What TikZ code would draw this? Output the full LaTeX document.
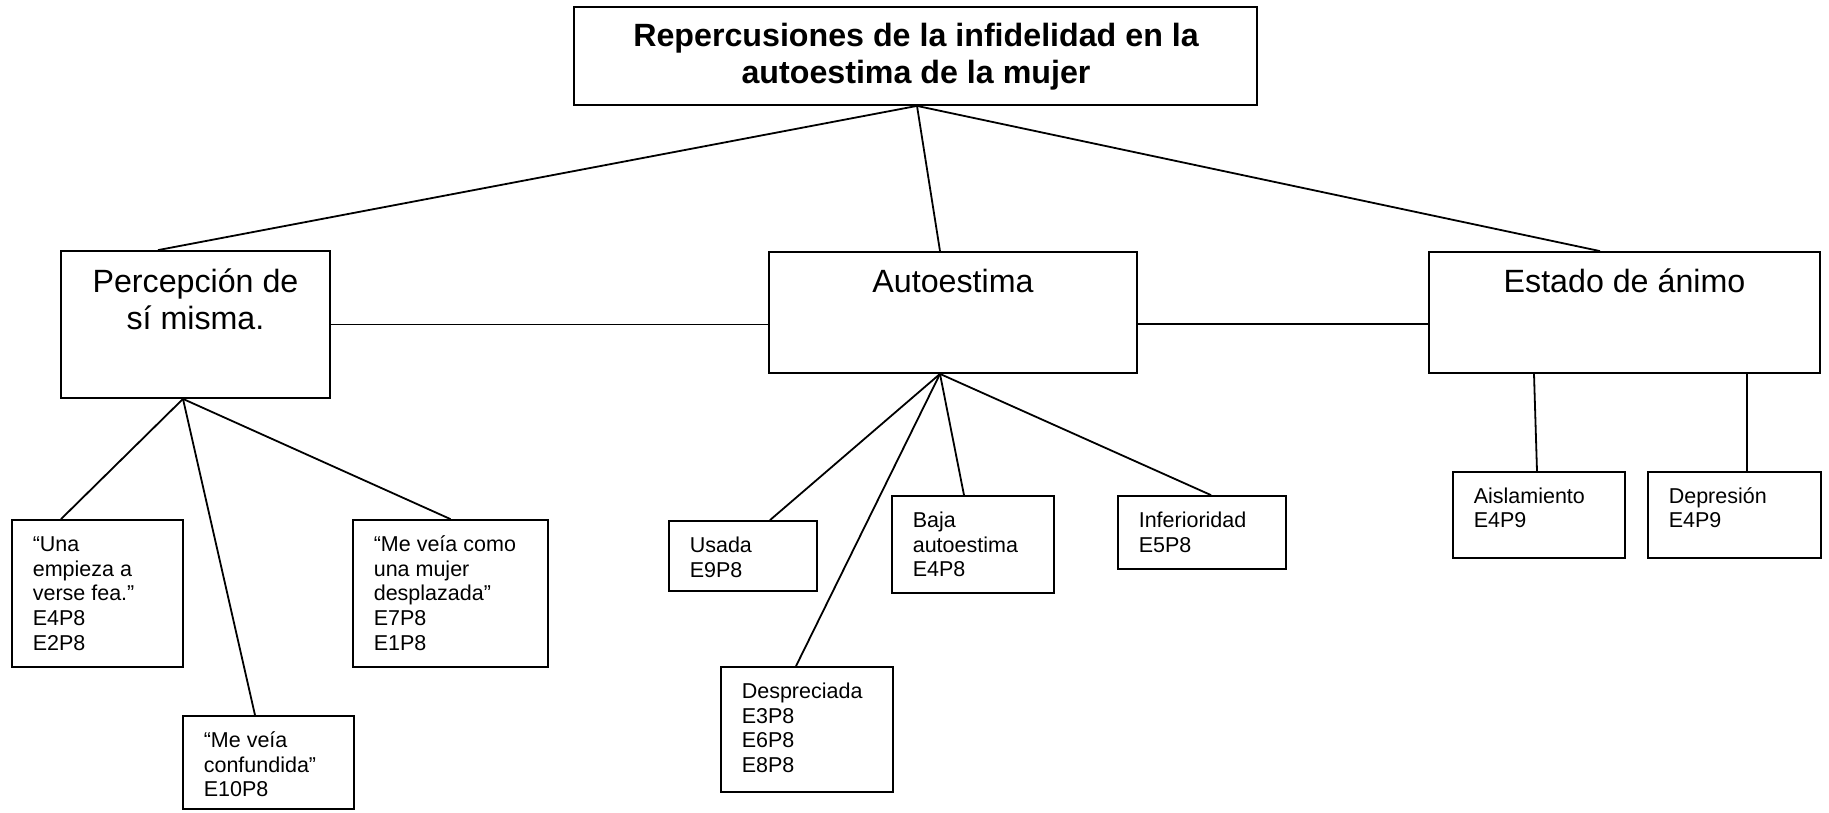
\documentclass[tikz,border=0pt]{standalone}
\usepackage{fontspec}
\setmainfont{Liberation Sans}
\begin{document}
\begin{tikzpicture}[x=1pt,y=-1pt,
  box/.style={draw, line width=1.8pt, inner sep=0pt, rectangle},
  conn/.style={line width=1.8pt},
  stxt/.style={inner sep=0pt, anchor=north west, align=left, font=\fontsize{21.5}{24.7}\selectfont},
  mtxt/.style={inner sep=0pt, anchor=north, align=center, font=\fontsize{32.2}{37}\selectfont},
  ttxt/.style={inner sep=0pt, anchor=north, align=center, font=\fontsize{32.2}{37}\selectfont\bfseries}]
\useasboundingbox[fill=white] (0,0) rectangle (1829,812);
% boxes
\node[box, minimum width=683pt, minimum height=98pt] (title) at (915.5,56) {};
\node[box, minimum width=269pt, minimum height=147pt] (perc) at (195.5,324.5) {};
\node[box, minimum width=368pt, minimum height=121pt] (auto) at (953,312.5) {};
\node[box, minimum width=391pt, minimum height=121pt] (estado) at (1624.5,312.5) {};
\node[box, minimum width=171pt, minimum height=147pt] (una) at (97.5,593.5) {};
\node[box, minimum width=171pt, minimum height=93pt] (conf) at (268.5,762.5) {};
\node[box, minimum width=195pt, minimum height=147pt] (despl) at (450.5,593.5) {};
\node[box, minimum width=148pt, minimum height=70pt] (usada) at (743,556) {};
\node[box, minimum width=172pt, minimum height=125pt] (desp) at (807,729.5) {};
\node[box, minimum width=162pt, minimum height=97pt] (baja) at (973,544.5) {};
\node[box, minimum width=168pt, minimum height=73pt] (inf) at (1202,532.5) {};
\node[box, minimum width=172pt, minimum height=86pt] (aisl) at (1539,515) {};
\node[box, minimum width=173pt, minimum height=86pt] (depr) at (1734.5,515) {};
% texts
\node[ttxt] (ttitle) at ([xshift=0.5pt,yshift=-14pt]title.north) {\strut Repercusiones de la infidelidad en la\\autoestima de la mujer};
\node[mtxt] (tperc) at ([yshift=-16pt]perc.north) {\strut Percepción de\\sí misma.};
\node[mtxt] (tauto) at ([yshift=-15pt]auto.north) {\strut Autoestima};
\node[mtxt] (testado) at ([yshift=-15pt]estado.north) {\strut Estado de ánimo};
\node[stxt] (tuna) at ([xshift=21.5pt,yshift=-14.7pt]una.north west) {\strut “Una\\empieza a\\verse fea.”\\E4P8\\E2P8};
\node[stxt] (tconf) at ([xshift=21.5pt,yshift=-14.7pt]conf.north west) {\strut “Me veía\\confundida”\\E10P8};
\node[stxt] (tdespl) at ([xshift=21.5pt,yshift=-14.7pt]despl.north west) {\strut “Me veía como\\una mujer\\desplazada”\\E7P8\\E1P8};
\node[stxt] (tusada) at ([xshift=21.5pt,yshift=-14.7pt]usada.north west) {\strut Usada\\E9P8};
\node[stxt] (tdesp) at ([xshift=21.5pt,yshift=-14.7pt]desp.north west) {\strut Despreciada\\E3P8\\E6P8\\E8P8};
\node[stxt] (tbaja) at ([xshift=21.5pt,yshift=-14.7pt]baja.north west) {\strut Baja\\autoestima\\E4P8};
\node[stxt] (tinf) at ([xshift=21.5pt,yshift=-14.7pt]inf.north west) {\strut Inferioridad\\E5P8};
\node[stxt] (taisl) at ([xshift=21.5pt,yshift=-14.7pt]aisl.north west) {\strut Aislamiento\\E4P9};
\node[stxt] (tdepr) at ([xshift=21.5pt,yshift=-14.7pt]depr.north west) {\strut Depresión\\E4P9};
% connectors
\draw[conn] ([xshift=1.5pt]title.south) -- ([xshift=-37.5pt]perc.north);
\draw[conn] ([xshift=1.5pt]title.south) -- ([xshift=-13pt]auto.north);
\draw[conn] ([xshift=1.5pt]title.south) -- ([xshift=-24.5pt]estado.north);
\draw[conn] (perc.east) -- (perc.east -| auto.west);
\draw[conn] ([yshift=-11.5pt]auto.east) -- ([yshift=-11.5pt]estado.west);
\draw[conn] ([xshift=-12.5pt]perc.south) -- ([xshift=-36.5pt]una.north);
\draw[conn] ([xshift=-12.5pt]perc.south) -- ([xshift=-13.5pt]conf.north);
\draw[conn] ([xshift=-12.5pt]perc.south) -- (despl.north);
\draw[conn] ([xshift=-13pt]auto.south) -- ([xshift=27pt]usada.north);
\draw[conn] ([xshift=-13pt]auto.south) -- ([xshift=-11pt]desp.north);
\draw[conn] ([xshift=-13pt]auto.south) -- ([xshift=-9pt]baja.north);
\draw[conn] ([xshift=-13pt]auto.south) -- ([xshift=9pt]inf.north);
\draw[conn] ([xshift=-90.5pt]estado.south) -- ([xshift=-2pt]aisl.north);
\draw[conn] ([xshift=122.5pt]estado.south) -- ([xshift=12.5pt]depr.north);
\end{tikzpicture}
\end{document}
